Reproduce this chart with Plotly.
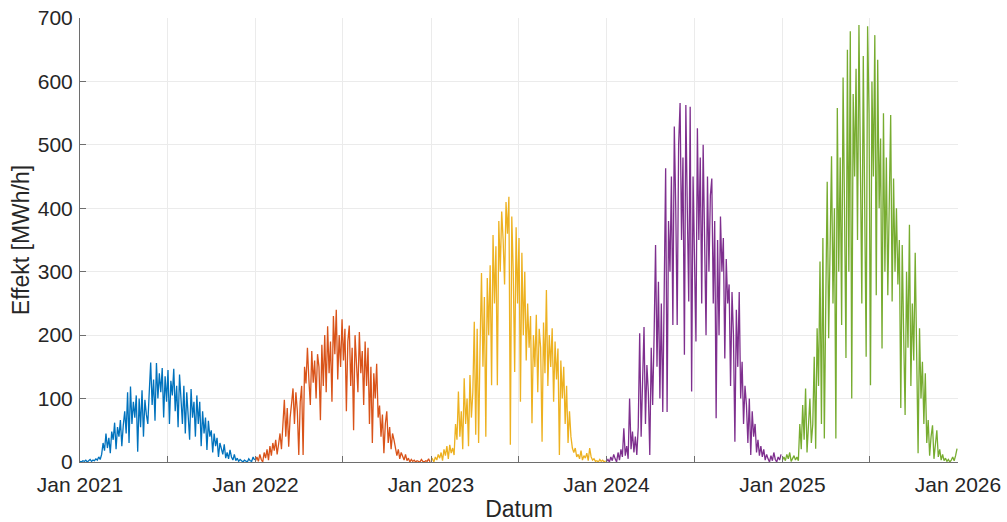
import pandas as pd
import plotly.graph_objects as go

years = [2021, 2022, 2023, 2024, 2025]
colors = ["#0072BD", "#D95319", "#EDB120", "#7E2F8E", "#77AC30"]
step_days = 3

values_2021 = [1,0,2,1,3,0,2,4,1,3,2,5,3,8,4,
               12,30,18,45,22,38,14,48,
               35,62,20,55,40,66,25,58,
               80,45,110,30,119,60,95,
               70,105,16,100,55,113,40,98,75,60,110,
               157,90,130,65,156,100,140,
               110,148,70,135,95,145,60,128,105,147,80,120,55,138,
               100,60,120,45,110,80,35,115,70,95,40,105,
               60,95,25,80,45,70,19,65,40,
               50,15,45,25,38,8,30,20,12,28,6,
               15,5,19,8,3,12,2,6,1,4,
               2,0,3,1,0,5,2,1,8,3]
values_2022 = [2,8,1,12,4,0,15,6,20,3,25,10,30,18,
               35,12,28,45,20,
               60,98,40,85,24,70,92,
               116,60,110,80,11,95,120,
               11,150,124,180,130,90,175,125,160,100,170,
               150,66,185,120,200,110,214,140,190,95,230,170,240,130,200,150,225,
               160,210,80,190,215,120,180,50,200,160,110,205,140,175,90,190,
               120,180,60,150,30,140,100,155,70,
               89,40,75,14,60,80,30,55,20,45,35,
               24,10,20,5,15,8,3,12,2,6,0,4,
               1,3,0,2,1,0,4,1,0,2,1,5,0]
values_2023 = [2,5,0,8,3,12,6,15,2,20,10,25,5,27,14,22,
               11,60,35,111,40,80,20,132,60,100,25,137,70,110,
               221,43,210,30,180,
               298,150,260,40,290,200,310,121,
               358,250,340,121,380,300,395,350,280,410,360,418,
               27,387,300,142,370,250,353,95,330,200,300,160,250,180,
               230,61,200,150,232,110,210,180,32,220,140,271,120,200,
               150,211,95,190,130,179,11,160,100,150,60,120,30,80,40,22,
               15,22,8,12,5,18,3,10,6,14,2,22,
               8,3,5,1,2,0,4,1,3,0,2]
values_2024 = [1,4,0,8,2,12,5,0,15,3,20,8,53,10,25,5,100,
               20,48,15,40,11,55,
               203,40,150,213,60,153,110,11,180,90,200,
               342,150,284,100,250,79,300,
               463,79,380,300,450,216,529,400,
               216,500,566,350,480,169,563,400,253,560,111,450,300,
               190,526,350,480,250,500,380,200,450,300,420,447,250,380,69,350,200,387,
               300,353,163,320,250,280,120,268,200,32,240,150,268,100,
               158,60,120,90,30,100,11,80,40,60,15,35,10,25,
               8,20,3,12,5,0,10,2,15,4,0,8,3,12]
values_2025 = [3,8,2,12,5,15,1,6,10,3,8,
               2,60,20,90,35,116,15,70,100,30,60,
               166,21,211,120,316,60,353,37,250,
               442,195,380,482,250,400,37,558,300,480,
               216,606,400,164,650,300,679,100,580,450,620,
               350,689,500,250,640,400,166,687,550,121,600,450,
               673,263,634,400,510,179,550,300,480,263,420,
               547,253,447,300,400,280,350,
               85,342,200,74,300,180,374,120,250,160,330,140,
               14,211,100,158,60,140,30,
               66,10,40,58,5,30,50,8,20,3,12,
               2,6,1,4,0,3,8,2,10,21]

series = [values_2021, values_2022, values_2023, values_2024, values_2025]

tick_dates = pd.date_range("2021-01-01", "2026-01-01", freq="6MS")
tick_text = [d.strftime("%b %Y") if d.month == 1 else "" for d in tick_dates]

fig = go.Figure()
for yr, vals, col in zip(years, series, colors):
    dates = pd.date_range(f"{yr}-01-01", periods=len(vals), freq=f"{step_days}D")
    fig.add_trace(go.Scatter(x=dates, y=vals, mode="lines",
                             line=dict(color=col, width=1.3),
                             showlegend=False))

font_family = "Liberation Sans, Arial, sans-serif"
axis_common = dict(
    showline=True, linecolor="#6e6e6e", linewidth=1, mirror=False,
    ticks="inside", ticklen=6, tickcolor="#6e6e6e",
    showgrid=True, gridcolor="#EBEBEB", gridwidth=1,
    zeroline=False, automargin=False,
    tickfont=dict(family=font_family, size=21, color="#262626"),
    title_font=dict(family=font_family, size=23, color="#262626"),
)

fig.update_layout(
    width=1007, height=522,
    margin=dict(l=80, r=49, t=18, b=60),
    paper_bgcolor="white", plot_bgcolor="white",
    xaxis=dict(range=["2021-01-01", "2026-01-01"], tickmode="array",
               tickvals=tick_dates, ticktext=tick_text,
               ticklabelstandoff=4,
               title=dict(text="Datum", standoff=8), **axis_common),
    yaxis=dict(range=[0, 700], dtick=100,
               ticklabelstandoff=2,
               title=dict(text="Effekt [MWh/h]", standoff=1), **axis_common),
)

fig.write_html("out.html")
